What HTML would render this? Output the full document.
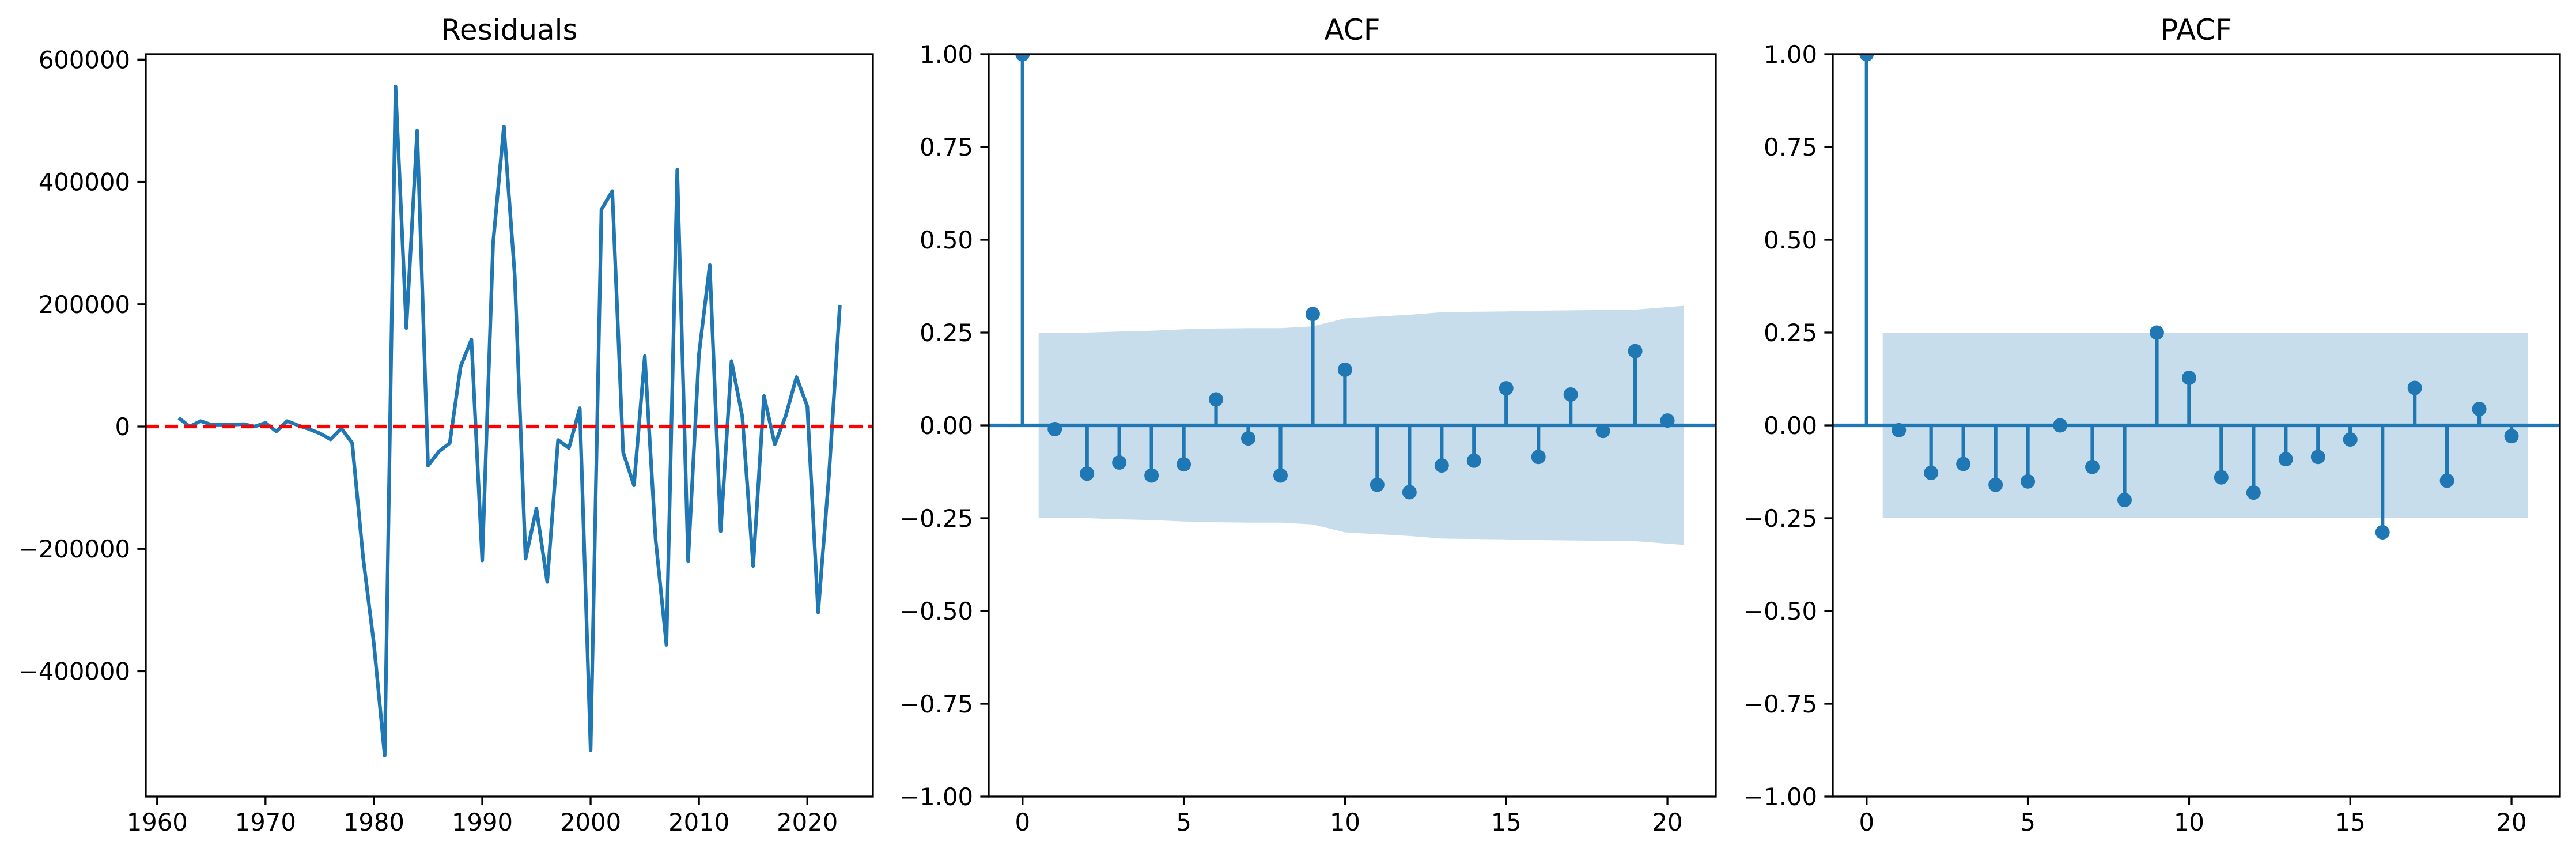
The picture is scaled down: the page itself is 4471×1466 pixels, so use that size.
<!DOCTYPE html>
<html><head><meta charset="utf-8">
<style>
html,body{margin:0;padding:0;background:#fff;}
svg{display:block;font-family:"DejaVu Sans","Liberation Sans",sans-serif;}
</style></head>
<body>
<svg id="fig" width="4471" height="1466" viewBox="0 0 4471 1466" xmlns="http://www.w3.org/2000/svg"></svg>
<script>
// Residuals data
const years = [];
for (let y = 1962; y <= 2023; y++) years.push(y);
const residuals = [14000,0,9000,3000,3000,3000,4000,0,6000,-8000,9000,2000,-4000,-11000,-21000,-3000,-27000,-213000,-355000,-538000,556000,161000,484000,-64000,-41000,-27000,98000,142000,-219000,299000,491000,247000,-216000,-134000,-254000,-22000,-35000,30000,-529000,355000,385000,-42000,-96000,115000,-185000,-357000,420000,-220000,118000,264000,-171000,107000,16000,-228000,50000,-29000,17000,81000,33000,-304000,-79000,198000];
const resYTicks = [-400000,-200000,0,200000,400000,600000];
const resXTicks = [1960,1970,1980,1990,2000,2010,2020];
// ACF data
const lags = [0,1,2,3,4,5,6,7,8,9,10,11,12,13,14,15,16,17,18,19,20];
const acfValues = [1,-0.01,-0.13,-0.10,-0.135,-0.105,0.07,-0.035,-0.135,0.30,0.15,-0.16,-0.18,-0.108,-0.095,0.10,-0.085,0.083,-0.015,0.20,0.013];
const acfBand = [0.25,0.25,0.253,0.255,0.259,0.261,0.262,0.262,0.267,0.288,0.293,0.298,0.305,0.306,0.307,0.309,0.31,0.311,0.312,0.322];
// PACF data
const pacfValues = [1,-0.013,-0.128,-0.104,-0.16,-0.151,0.0,-0.112,-0.201,0.25,0.128,-0.14,-0.181,-0.091,-0.085,-0.038,-0.288,0.101,-0.149,0.044,-0.029];
const pacfBand = [0.25,0.25,0.25,0.25,0.25,0.25,0.25,0.25,0.25,0.25,0.25,0.25,0.25,0.25,0.25,0.25,0.25,0.25,0.25,0.25];
const corrYTicks = [-1,-0.75,-0.5,-0.25,0,0.25,0.5,0.75,1];
const lagTicks = [0,5,10,15,20];

const NS = "http://www.w3.org/2000/svg";
const svg = document.getElementById('fig');
function el(tag, attrs, parent) {
  const e = document.createElementNS(NS, tag);
  for (const k in attrs) e.setAttribute(k, attrs[k]);
  (parent || svg).appendChild(e);
  return e;
}
const TOP = 94, BOT = 1382, W = 1262;
const BLUE = '#1f77b4';
function fmtInt(v){ return (v < 0 ? '\u2212' : '') + Math.abs(v); }
function fmtDec(v){ return (v < 0 ? '\u2212' : '') + Math.abs(v).toFixed(2); }

function frame(g, L, title, name) {
  const r = el('rect', {x:L, y:TOP, width:W, height:BOT-TOP, fill:'none', stroke:'#000', 'stroke-width':3.3}, g);
  
  
  const t = el('text', {x:L+W/2, y:69, 'text-anchor':'middle', 'font-size':50, fill:'#000'}, g);
  t.textContent = title;
  
  
}
function yTick(g, L, y, label, name) {
  const l = el('line', {x1:L-14.6, x2:L, y1:y, y2:y, stroke:'#000', 'stroke-width':3.3}, g);
  
  
  const t = el('text', {x:L-27, y:y+15, 'text-anchor':'end', 'font-size':41.7, fill:'#000'}, g);
  t.textContent = label;
  
  
}
function xTick(g, x, label, name) {
  const l = el('line', {x1:x, x2:x, y1:BOT, y2:BOT+14.6, stroke:'#000', 'stroke-width':3.3}, g);
  
  
  const t = el('text', {x:x, y:BOT+59, 'text-anchor':'middle', 'font-size':41.7, fill:'#000'}, g);
  t.textContent = label;
  
  
}

// ---- Residuals panel ----
(function(){
  const L = 253;
  const x0 = 1958.95, x1 = 2026.05, y0 = -605000, y1 = 608800;
  const sx = v => L + (v - x0) / (x1 - x0) * W;
  const sy = v => BOT - (v - y0) / (y1 - y0) * (BOT - TOP);
  const g = el('g', {});
  
  
  const cp = el('clipPath', {id:'c1'}, g);
  el('rect', {x:L, y:TOP, width:W, height:BOT-TOP}, cp);
  const pts = years.map((y,i) => sx(y).toFixed(1) + ',' + sy(residuals[i]).toFixed(1)).join(' ');
  const line = el('polyline', {points:pts, fill:'none', stroke:BLUE, 'stroke-width':6.25, 'stroke-linejoin':'round', 'clip-path':'url(#c1)'}, g);
  
  
  const z = el('line', {x1:L, x2:L+W, y1:sy(0), y2:sy(0), stroke:'#ff0000', 'stroke-width':6.25, 'stroke-dasharray':'23 10'}, g);
  
  
  frame(g, L, 'Residuals', 'residuals');
  resYTicks.forEach(v => yTick(g, L, sy(v), fmtInt(v), 'residuals'));
  resXTicks.forEach(v => xTick(g, sx(v), String(v), 'residuals'));
})();

function corrPanel(L, vals, band, title, name, cid) {
  const x0 = -1.05, x1 = 21.5, y0 = -1, y1 = 1;
  const sx = v => L + (v - x0) / (x1 - x0) * W;
  const sy = v => BOT - (v - y0) / (y1 - y0) * (BOT - TOP);
  const g = el('g', {});
  
  
  const cp = el('clipPath', {id:cid}, g);
  el('rect', {x:L, y:TOP, width:W, height:BOT-TOP}, cp);
  const bx = lags.slice(1).map((l,i,a) => i === 0 ? l - 0.5 : (i === a.length-1 ? l + 0.5 : l));
  let d = '';
  bx.forEach((x,i) => { d += (i ? 'L' : 'M') + sx(x).toFixed(1) + ',' + sy(band[i]).toFixed(1); });
  for (let i = bx.length-1; i >= 0; i--) d += 'L' + sx(bx[i]).toFixed(1) + ',' + sy(-band[i]).toFixed(1);
  d += 'Z';
  const b = el('path', {d:d, fill:BLUE, 'fill-opacity':0.25, stroke:'none'}, g);
  
  
  const h = el('line', {x1:L, x2:L+W, y1:sy(0), y2:sy(0), stroke:BLUE, 'stroke-width':6.25}, g);
  
  
  lags.forEach((l,i) => {
    const s = el('line', {x1:sx(l), x2:sx(l), y1:sy(0), y2:sy(vals[i]), stroke:BLUE, 'stroke-width':6.25}, g);
    
    
    const c = el('circle', {cx:sx(l), cy:sy(vals[i]), r:12.5, fill:BLUE, 'clip-path':'url(#' + cid + ')'}, g);
    
    
  });
  frame(g, L, title, name);
  corrYTicks.forEach(v => yTick(g, L, sy(v), fmtDec(v), name));
  lagTicks.forEach(v => xTick(g, sx(v), String(v), name));
}
corrPanel(1716, acfValues, acfBand, 'ACF', 'acf', 'c2');
corrPanel(3181, pacfValues, pacfBand, 'PACF', 'pacf', 'c3');
</script>
</body></html>
